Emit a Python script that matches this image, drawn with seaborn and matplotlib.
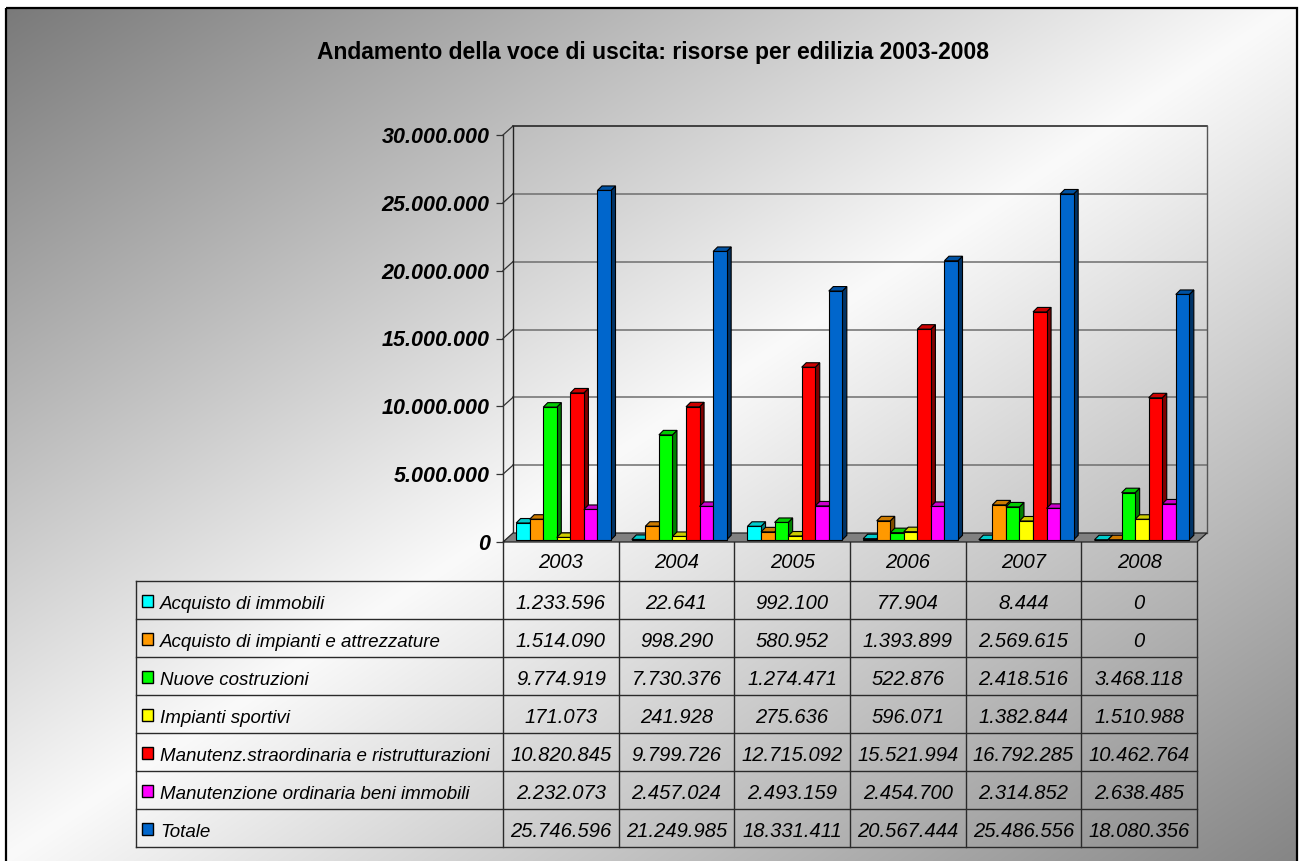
import numpy as np
import pandas as pd
import matplotlib
matplotlib.use("Agg")
import matplotlib.pyplot as plt
import matplotlib.colors as mcolors
from matplotlib.patches import Polygon, Rectangle
import seaborn as sns

# ---------------------------------------------------------------- data
anni = ["2003", "2004", "2005", "2006", "2007", "2008"]
voci = [
    "Acquisto di immobili",
    "Acquisto di impianti e attrezzature",
    "Nuove costruzioni",
    "Impianti sportivi",
    "Manutenz.straordinaria e ristrutturazioni",
    "Manutenzione ordinaria beni immobili",
    "Totale",
]
acquisto_immobili = [1233596, 22641, 992100, 77904, 8444, 0]
acquisto_impianti = [1514090, 998290, 580952, 1393899, 2569615, 0]
nuove_costruzioni = [9774919, 7730376, 1274471, 522876, 2418516, 3468118]
impianti_sportivi = [171073, 241928, 275636, 596071, 1382844, 1510988]
manut_straordinaria = [10820845, 9799726, 12715092, 15521994, 16792285, 10462764]
manut_ordinaria = [2232073, 2457024, 2493159, 2454700, 2314852, 2638485]
totale = [25746596, 21249985, 18331411, 20567444, 25486556, 18080356]
colori = ["#00FFFF", "#FF9900", "#00FF00", "#FFFF00", "#FF0000", "#FF00FF", "#0066CC"]
y_ticks = [0, 5000000, 10000000, 15000000, 20000000, 25000000, 30000000]
titolo = "Andamento della voce di uscita: risorse per edilizia 2003-2008"

serie = [acquisto_immobili, acquisto_impianti, nuove_costruzioni, impianti_sportivi,
         manut_straordinaria, manut_ordinaria, totale]


def fmt(v):
    return f"{int(v):,}".replace(",", ".")


df = pd.DataFrame(
    [{"anno": a, "voce": v, "importo": s[i]}
     for v, s in zip(voci, serie) for i, a in enumerate(anni)]
)

# ---------------------------------------------------------------- figure
plt.rcParams["font.family"] = ["Liberation Sans", "DejaVu Sans"]
W, H = 1301, 861
fig = plt.figure(figsize=(W / 100, H / 100), dpi=100)

# diagonal grey gradient background inside a framed panel
yy, xx = np.mgrid[0:H, 0:W]
s = (xx / W + yy / H) / 2.0
lum = np.where(s < 0.5, 0.47 + s / 0.5 * 0.51, 0.98 - (s - 0.5) / 0.5 * 0.46)
FL, FT, FR = 6, 8, 1297
lum = np.where((xx >= FL) & (xx <= FR) & (yy >= FT), lum, 1.0)
img = np.dstack([lum, lum, lum])

bg = fig.add_axes([0, 0, 1, 1], zorder=0)
bg.imshow(img, extent=(0, W, H, 0), aspect="auto", interpolation="bilinear")
bg.set_xlim(0, W)
bg.set_ylim(H, 0)
bg.axis("off")
bg.add_patch(Rectangle((FL, FT), FR - FL, H + 10, fill=False, edgecolor="black", lw=1.6))

# main plotting area (front plane of the 3D box)
X0, X1 = 503, 1197
Y0, Y1 = 542, 135
ax = fig.add_axes([X0 / W, 1 - Y0 / H, (X1 - X0) / W, (Y0 - Y1) / H], zorder=2)
ax.set_facecolor("none")

sns.barplot(data=df, x="anno", y="importo", hue="voce", order=anni, hue_order=voci,
            palette=colori, width=0.82, saturation=1, errorbar=None,
            edgecolor="black", linewidth=0.8, legend=False, ax=ax)
bars = sorted([p for p in ax.patches if isinstance(p, Rectangle)], key=lambda p: p.get_x())

ax.set_xlim(-0.5, len(anni) - 0.5)
ax.set_ylim(y_ticks[0], y_ticks[-1])

ppx = (X1 - X0) / (len(anni))          # pixels per category
ppy = (Y0 - Y1) / (y_ticks[-1] - y_ticks[0])  # pixels per unit

# depth of the floor / wall and of each bar, in data units
fdx, fdy = 10 / ppx, 9 / ppy
bdx, bdy = 4.5 / ppx, 4.5 / ppy
ox, oy = (fdx - bdx) / 2, (fdy - bdy) / 2

xl, xr = ax.get_xlim()
top = y_ticks[-1]
grid_c = "#6e6e6e"

# floor
ax.add_patch(Polygon([(xl, 0), (xr, 0), (xr + fdx, fdy), (xl + fdx, fdy)],
                     closed=True, facecolor="#808080", edgecolor="#222222",
                     lw=0.9, zorder=1, clip_on=False))
# back wall grid lines
for v in y_ticks[1:]:
    ax.plot([xl + fdx, xr + fdx], [v + fdy, v + fdy],
            color="#1a1a1a" if v == top else grid_c, lw=1.1, zorder=0.5, clip_on=False)
    ax.plot([xl, xl + fdx], [v, v + fdy], color="#333333", lw=0.9, zorder=0.5, clip_on=False)
ax.plot([xl + fdx, xl + fdx], [fdy, top + fdy], color="#222222", lw=1.0, zorder=0.5, clip_on=False)
ax.plot([xr + fdx, xr + fdx], [fdy, top + fdy], color="#555555", lw=1.0, zorder=0.5, clip_on=False)
ax.plot([xl, xl], [0, top], color="#333333", lw=1.0, zorder=0.6, clip_on=False)


def shade(c, f):
    r, g, b = mcolors.to_rgb(c)
    return (r * f, g * f, b * f)


# turn flat bars into 3D prisms: side and top faces drawn behind each front face
for k, p in enumerate(bars):
    x = p.get_x() + ox
    w = p.get_width()
    h = p.get_height()
    col = p.get_facecolor()
    z = 3 + k * 0.01
    p.set_x(x)
    p.set_y(oy)
    p.set_zorder(z + 0.006)
    b0, b1 = oy, oy + h
    side = Polygon([(x + w, b0), (x + w + bdx, b0 + bdy), (x + w + bdx, b1 + bdy), (x + w, b1)],
                   closed=True, facecolor=shade(col, 0.5), edgecolor="black", lw=0.8, zorder=z)
    topf = Polygon([(x, b1), (x + w, b1), (x + w + bdx, b1 + bdy), (x + bdx, b1 + bdy)],
                   closed=True, facecolor=shade(col, 0.8), edgecolor="black", lw=0.8, zorder=z + 0.003)
    ax.add_patch(side)
    ax.add_patch(topf)

for sp in ax.spines.values():
    sp.set_visible(False)
ax.set_xlabel("")
ax.set_ylabel("")
ax.tick_params(axis="x", length=0, labelbottom=False)
ax.set_yticks(y_ticks)
ax.set_yticklabels([fmt(v) for v in y_ticks], fontsize=15.5, fontweight="bold", fontstyle="italic")
ax.tick_params(axis="y", length=5.2, width=0.9, color="#333333", pad=4.3)

# ---------------------------------------------------------------- overlay: title and data table
ov = fig.add_axes([0, 0, 1, 1], zorder=1)
ov.set_xlim(0, W)
ov.set_ylim(H, 0)
ov.set_facecolor("none")
ov.axis("off")

ov.text(653, 52, titolo, ha="center", va="center", fontsize=16.5, fontweight="bold")

edges = ax.transData.transform(np.column_stack([np.arange(len(anni) + 1) - 0.5,
                                                np.zeros(len(anni) + 1)]))[:, 0]
T_LEFT, T_TOP, HDR_BOT, ROW_H = 135.5, 542, 581, 38.0
T_BOT = HDR_BOT + ROW_H * len(voci)
line_c = "#2a2a2a"

for e in edges:
    ov.plot([e, e], [T_TOP, T_BOT], color=line_c, lw=1.0)
ov.plot([T_LEFT, T_LEFT], [HDR_BOT, T_BOT], color=line_c, lw=1.0)
for i in range(len(voci) + 1):
    yv = HDR_BOT + i * ROW_H
    ov.plot([T_LEFT, edges[-1]], [yv, yv], color=line_c, lw=1.0)

centers = (edges[:-1] + edges[1:]) / 2
for cx, a in zip(centers, anni):
    ov.text(cx, (T_TOP + HDR_BOT) / 2 + 6.5, a, ha="center", va="baseline",
            fontsize=14.5, fontstyle="italic")

for i, (v, s_, c) in enumerate(zip(voci, serie, colori)):
    cy = HDR_BOT + (i + 0.5) * ROW_H
    ov.add_patch(Rectangle((142, cy - 5), 11, 12, facecolor=c, edgecolor="black", lw=1.0))
    ov.text(160, cy + 9, v, ha="left", va="baseline", fontsize=13.5, fontstyle="italic")
    for cx, val in zip(centers, s_):
        ov.text(cx, cy + 9, fmt(val), ha="center", va="baseline", fontsize=14.5, fontstyle="italic")

fig.savefig("out.png", dpi=100)
